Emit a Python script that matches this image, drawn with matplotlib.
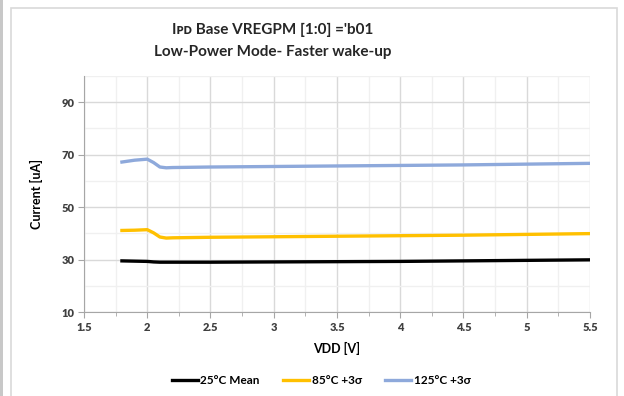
import matplotlib.pyplot as plt
from matplotlib.patches import Rectangle
from matplotlib.lines import Line2D
import numpy as np

# Data
vdd = [1.8, 1.9, 2.0, 2.05, 2.1, 2.15, 2.2, 2.5, 3.0, 3.5, 4.0, 4.5, 5.0, 5.5]
mean_25 = [29.5, 29.4, 29.3, 29.1, 29.0, 29.0, 29.0, 29.0, 29.1, 29.2, 29.3, 29.5, 29.7, 29.9]
sig_85 = [41.1, 41.2, 41.4, 40.2, 38.6, 38.2, 38.3, 38.5, 38.7, 38.9, 39.1, 39.3, 39.6, 39.9]
sig_125 = [67.2, 67.9, 68.3, 67.0, 65.3, 65.0, 65.1, 65.3, 65.5, 65.7, 65.9, 66.1, 66.4, 66.7]
labels = ['25°C Mean', '85°C +3σ', '125°C +3σ']
colors = ['#000000', '#FFC000', '#8EA9DB']
xticks = [1.5, 2.0, 2.5, 3.0, 3.5, 4.0, 4.5, 5.0, 5.5]
xtick_labels = ['1.5', '2', '2.5', '3', '3.5', '4', '4.5', '5', '5.5']
yticks = [10, 30, 50, 70, 90]

plt.rcParams['font.family'] = ['Lato', 'DejaVu Sans']

fig = plt.figure(figsize=(6.24, 3.96), dpi=100)
ax = fig.add_axes([0.1346, 0.2121, 0.8109, 0.5959])

for ys, c in zip([mean_25, sig_85, sig_125], colors):
    ax.plot(vdd, ys, color=c, lw=2.4, solid_joinstyle='round')

ax.set_xlim(1.5, 5.5)
ax.set_ylim(10, 100)
ax.set_xticks(xticks)
ax.set_xticks(np.arange(1.75, 5.5, 0.5), minor=True)
ax.set_yticks(yticks)
ax.set_yticks([20, 40, 60, 80, 100], minor=True)
ax.set_xticklabels(xtick_labels, fontweight='heavy', color='#404040', fontsize=8)
ax.set_yticklabels([str(v) for v in yticks], fontweight='heavy', color='#404040',
                   fontsize=8)

ax.grid(which='major', color='#d9d9d9', lw=1)
ax.grid(which='minor', color='#f0f0f0', lw=1)
ax.set_axisbelow(True)

for s in ['top', 'right']:
    ax.spines[s].set_visible(False)
for s in ['left', 'bottom']:
    ax.spines[s].set_color('#a6a6a6')
ax.tick_params(which='major', length=4, color='#a6a6a6', pad=3)
ax.tick_params(axis='y', which='minor', length=0)
ax.tick_params(axis='x', which='minor', length=3, color='#a6a6a6')

ax.set_xlabel('VDD [V]', fontsize=9, fontweight='bold', labelpad=7)
ax.set_ylabel('Current [uA]', fontsize=9, fontweight='bold', labelpad=13)

fig.text(0.4375, 0.925, "Iᴘᴅ Base VREGPM [1:0] ='b01", ha='center', va='center',
         fontsize=11, fontweight='bold', color='#262626')
fig.text(0.4375, 0.868, 'Low-Power Mode- Faster wake-up', ha='center', va='center',
         fontsize=11, fontweight='bold', color='#262626')

handles = [Line2D([0], [0], color=c, lw=2.4) for c in colors]
leg = fig.legend(handles, labels, loc='center', bbox_to_anchor=(0.515, 0.04), ncol=3,
                 frameon=False, fontsize=8.5, handlelength=2.2, handletextpad=0.2,
                 columnspacing=2.0)
for t in leg.get_texts():
    t.set_fontweight('bold')

# chart frame and left edge line
fig.patches.append(Rectangle((11 / 624, -0.05), 606 / 624, 1 - 8 / 396 + 0.05,
                             transform=fig.transFigure, fill=False,
                             edgecolor='#d9d9d9', lw=1.2))
fig.patches.append(Rectangle((0.0, 0.0), 3 / 624, 1.0, transform=fig.transFigure,
                             facecolor='#c8c8c8', edgecolor='none'))

fig.savefig('out.png', dpi=100)
